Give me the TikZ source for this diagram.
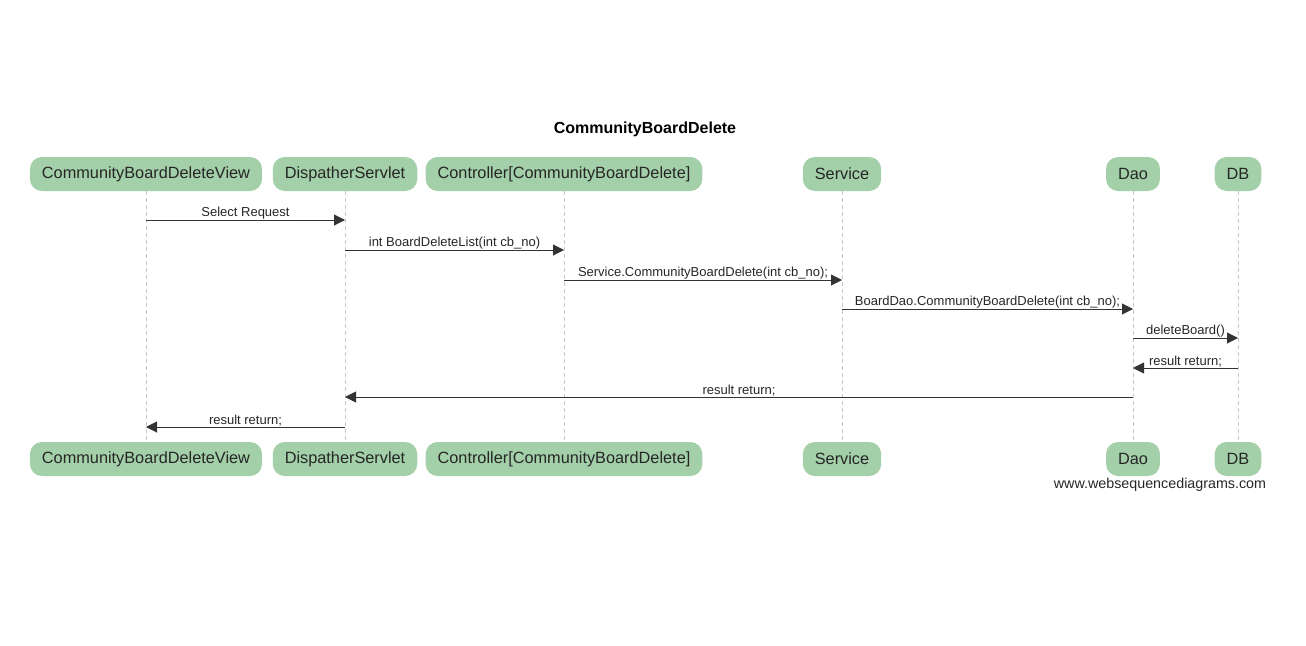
\documentclass[tikz,border=0pt]{standalone}
\usepackage{fontspec}
\setmainfont{Liberation Sans}
\usetikzlibrary{arrows.meta}
\definecolor{partfill}{HTML}{A3D0A9}
\definecolor{lifegray}{HTML}{C8C8C8}
\tikzset{
  part/.style={fill=partfill, rounded corners=12pt, minimum height=34pt, inner xsep=12pt, inner ysep=0pt, font=\fontsize{16.3}{18}\selectfont, text=black!85},
  life/.style={draw=lifegray, dash pattern=on 4pt off 3pt, line width=0.8pt},
  msg/.style={draw=black!80, line width=1pt, -{Triangle[length=11pt,width=11pt]}},
  lbl/.style={font=\fontsize{13}{15}\selectfont, text=black!85, above=-1pt, inner sep=1pt},
}
\begin{document}
\begin{tikzpicture}[x=1pt,y=-1pt]
\useasboundingbox (0,0) rectangle (1306,645);
\node[font=\bfseries\fontsize{16}{18}\selectfont] (title) at (645,129) {CommunityBoardDelete};
% top participants
\node[part] (v) at (146,174) {CommunityBoardDeleteView};
\node[part] (d) at (345,174) {DispatherServlet};
\node[part] (c) at (564,174) {Controller[CommunityBoardDelete]};
\node[part] (s) at (842,174) {Service};
\node[part] (o) at (1133,174) {Dao};
\node[part] (b) at (1238,174) {DB};
% bottom participants
\node[part] (v2) at (146,459) {CommunityBoardDeleteView};
\node[part] (d2) at (345,459) {DispatherServlet};
\node[part] (c2) at (564,459) {Controller[CommunityBoardDelete]};
\node[part] (s2) at (842,459) {Service};
\node[part] (o2) at (1133,459) {Dao};
\node[part] (b2) at (1238,459) {DB};
% lifelines
\foreach \a/\b in {v/v2,d/d2,c/c2,s/s2,o/o2,b/b2}
  \draw[life] (\a.south) -- (\b.north);
% message coordinates
\coordinate (m1a) at (146,220); \coordinate (m1b) at (345,220);
\coordinate (m2a) at (345,250); \coordinate (m2b) at (564,250);
\coordinate (m3a) at (564,280); \coordinate (m3b) at (842,280);
\coordinate (m4a) at (842,309); \coordinate (m4b) at (1133,309);
\coordinate (m5a) at (1133,338); \coordinate (m5b) at (1238,338);
\coordinate (m6a) at (1238,368); \coordinate (m6b) at (1133,368);
\coordinate (m7a) at (1133,397); \coordinate (m7b) at (345,397);
\coordinate (m8a) at (345,427); \coordinate (m8b) at (146,427);
\draw[msg] (m1a) -- node[lbl] {Select Request} (m1b);
\draw[msg] (m2a) -- node[lbl] {int BoardDeleteList(int cb\_no)} (m2b);
\draw[msg] (m3a) -- node[lbl] {Service.CommunityBoardDelete(int cb\_no);} (m3b);
\draw[msg] (m4a) -- node[lbl] {BoardDao.CommunityBoardDelete(int cb\_no);} (m4b);
\draw[msg] (m5a) -- node[lbl] {deleteBoard()} (m5b);
\draw[msg] (m6a) -- node[lbl] {result return;} (m6b);
\draw[msg] (m7a) -- node[lbl] {result return;} (m7b);
\draw[msg] (m8a) -- node[lbl] {result return;} (m8b);
\node[font=\fontsize{14.3}{16}\selectfont, text=black!85] (wm) at (1160,485) {www.websequencediagrams.com};
\end{tikzpicture}
\end{document}
